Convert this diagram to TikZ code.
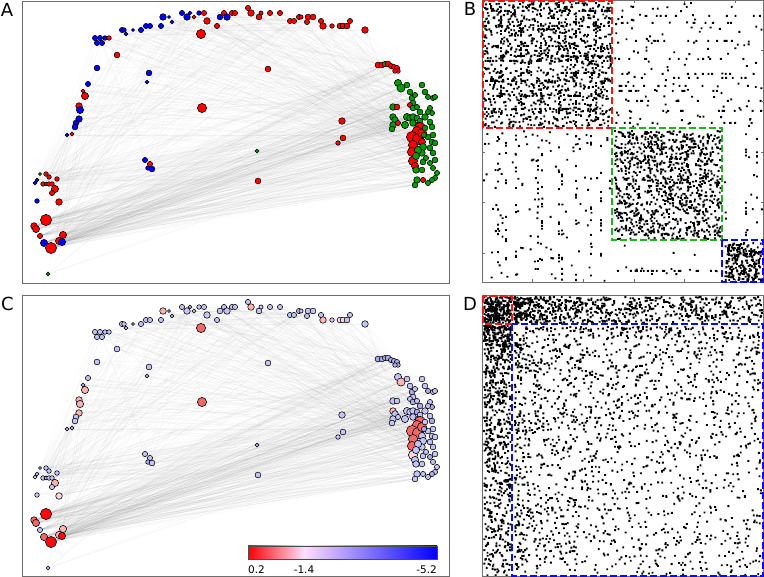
\documentclass[tikz,border=0pt]{standalone}
\usepackage{fontspec}
\setmainfont{DejaVu Sans}
\definecolor{cr}{RGB}{255,0,0}
\definecolor{cb}{RGB}{0,0,255}
\definecolor{cg}{RGB}{0,155,0}
\definecolor{cL}{RGB}{196,196,246}
\definecolor{cK}{RGB}{170,170,236}
\definecolor{cP}{RGB}{252,180,180}
\definecolor{cW}{RGB}{252,214,222}
\definecolor{cM}{RGB}{244,104,104}
\definecolor{cR}{RGB}{255,10,10}
\definecolor{cmid}{RGB}{255,222,252}
\definecolor{framegray}{RGB}{110,110,110}
\definecolor{boxred}{RGB}{250,20,20}
\definecolor{boxgreen}{RGB}{30,180,30}
\definecolor{boxblue}{RGB}{10,10,250}
\tikzset{
  edge/.style={draw=black!40,line width=0.3pt,opacity=0.09},
  vert/.style={circle,draw=black,line width=0.55pt,inner sep=0pt},
  frame/.style={draw=framegray,line width=0.9pt},
  dashbox/.style={line width=1.8pt,dash pattern=on 7pt off 3pt},
  dotm/.style={fill=black},
  panlabel/.style={font=\fontsize{18}{18}\selectfont,inner sep=0pt},
  cbtext/.style={font=\fontsize{10.5}{11}\selectfont,inner sep=0pt}
}
\def\netdata{378/65/2.3/cr/cK,382/65/2.3/cr/cK,385/64/2.0/cg/cK,388/64/2.3/cr/cK,391/66/2.0/cr/cK,394/67/2.0/cr/cK,397/68/2.0/cr/cK,398/71/1.7/cr/cK,395/71/1.7/cr/cK,
398/83/3/cg/cL,401/88/3.5/cg/cP,407/85/2.3/cg/cL,410/92/2.3/cg/cL,412/98/2.3/cg/cK,415/95/2/cg/cL,413/103/2.3/cg/cL,410/105/2/cr/cL,413/108/2.3/cg/cK,417/107/2/cg/cL,422/85/2.3/cg/cL,
425/92/2.3/cg/cL,428/97/2/cg/cK,433/98/2/cg/cL,435/97/2/cg/cL,430/108/2/cg/cL,432/113/2/cg/cK,393/107/2.7/cg/cL,397/107/2.3/cr/cL,393/117/2.7/cg/cP,395/120/2.7/cg/cL,
393/125/2.7/cg/cL,392/129/2.3/cg/cL,398/123/2/cr/cL,405/125/3/cg/cL,407/117/3/cg/cL,410/118/2.7/cg/cL,413/117/2.7/cg/cL,417/118/2.3/cg/cK,420/121/2.3/cg/cL,413/123/2.7/cg/cL,
418/125/2.3/cg/cL,420/128/5/cr/cM,417/131/4/cr/cM,412/137/5/cr/cM,418/139/5/cr/cM,422/133/4/cr/cM,413/145/4/cr/cM,412/152/4/cr/cM,413/161/4/cr/cW,415/166/3/cr/cL,
422/142/3/cr/cL,423/147/3/cg/cL,430/122/2.3/cg/cL,432/127/2.3/cg/cK,433/135/2.3/cg/cL,428/137/2.3/cg/cL,432/142/2.3/cg/cL,435/143/2.3/cg/cL,430/148/2.3/cg/cL,433/153/2.3/cg/cL,
435/160/2.3/cg/cL,430/163/2/cg/cK,433/168/2/cg/cL,437/173/2/cg/cL,435/178/2/cg/cL,428/183/2/cg/cL,432/180/2/cg/cK,422/153/2.7/cg/cL,423/162/2.3/cg/cL,422/170/2.3/cg/cL,
417/180/2.7/cg/cL,415/185/2.3/cg/cL,423/180/2/cr/cL,425/117/2.7/cg/cL,428/112/2/cg/cL,420/112/2.3/cg/cK,418/150/3/cg/cL,416/156/3/cg/cL,425/128/2.3/cg/cL,424/135/2/cg/cK,
416/170/2.7/cg/cL,426/158/2/cg/cL,
46/174/1.7/cr/cL,40/174/1/cg/cL,49/177/1.7/cr/cL,57/179/1.7/cr/cL,37/180/1.3/cb/cL,35/183/1.3/cb/cL,43/184/1.7/cr/cL,46/184/1.3/cr/cL,49/184/1.7/cr/cL,52/184/1.7/cr/cL,
55/189/3/cr/cP,52/193/2/cr/cL,37/201/1.7/cb/cL,59/202/2.7/cr/cW,46/220/5/cr/cR,34/226/2.7/cr/cM,36/229/3/cr/cM,40/236/2/cr/cL,63/235/3/cr/cP,59/241/3/cr/cP,
62/242/3/cb/cR,44/243/3/cb/cM,51/248/5/cr/cR,48/274/1.3/cg/cL,
163/17/2.7/cb/cP,169/17/1/cb/cK,172/22/1.3/cb/cK,182/13/2/cb/cL,187/17/2.7/cb/cL,190/13/1.3/cb/cK,194/17/1.3/cr/cL,199/13/1.7/cb/cL,204/13/2/cr/cL,207/21/2.7/cr/cL,
217/26/2/cr/cL,220/17/2.3/cb/cL,224/13/2/cr/cL,227/17/2.7/cb/cL,232/13/2/cr/cL,235/13/2/cr/cL,248/8/2/cr/cL,251/13/2.7/cr/cP,259/17/2.3/cr/cL,261/13/1.5/cr/cL,
270/13/2/cr/cL,280/13/2/cr/cL,290/21/2/cr/cL,294/21/2/cr/cL,299/17/2/cr/cL,301/17/1.5/cr/cL,307/22/2/cr/cL,308/17/2.3/cr/cL,313/17/2.3/cr/cL,321/21/2/cr/cL,
323/26/2.7/cr/cP,332/26/1.7/cr/cL,340/26/2.3/cr/cW,343/26/2.3/cr/cW,347/26/2.3/cr/cL,350/21/2/cr/cL,365/30/2.7/cr/cL,201/34/4/cr/cM,122/30/2/cb/cL,124/30/1.7/cb/cL,
126/34/1.3/cb/cK,133/30/1/cb/cK,141/30/2/cb/cL,146/26/2/cb/cL,150/26/2/cb/cL,161/26/2/cb/cL,95/38/2/cb/cL,97/43/2/cb/cL,100/38/2/cb/cL,102/43/2/cb/cL,
105/38/1.7/cb/cL,109/38/1.7/cr/cL,117/55/2.3/cr/cL,97/68/2.3/cb/cL,149/73/2.3/cb/cL,147/82/1.3/cb/cK,88/84/2/cb/cL,83/91/1.3/cr/cK,85/96/3/cr/cP,79/106/2.7/cr/cP,
80/110/3/cb/cP,79/119/2.7/cb/cP,76/123/2.3/cb/cL,75/127/2.3/cb/cL,67/135/1.3/cb/cK,72/134/1.3/cr/cK,202/108/4/cr/cM,268/69/2.3/cr/cL,342/121/2.7/cr/cL,343/138/2.3/cr/cL,
338/143/1.7/cr/cL,257/151/1.3/cg/cK,258/181/2.3/cr/cL,145/160/2/cb/cL,150/164/2/cr/cL,148/168/1.7/cb/cK,152/169/2.3/cb/cL}
\newcommand\netpanel[2]{%
  \foreach \x/\y/\r/\a/\c [count=\i] in \netdata {\coordinate (#1\i) at (\x,\y);}
  \pgfmathsetseed{11}
  \foreach \k in {1,...,230}{\pgfmathrandominteger{\ia}{97}{105}\pgfmathrandominteger{\ib}{1}{82}\draw[edge] (#1\ia) -- (#1\ib);}
  \foreach \k in {1,...,110}{\pgfmathrandominteger{\ia}{83}{106}\pgfmathrandominteger{\ib}{1}{82}\draw[edge] (#1\ia) -- (#1\ib);}
  \foreach \k in {1,...,260}{\pgfmathrandominteger{\ia}{107}{183}\pgfmathrandominteger{\ib}{1}{82}\draw[edge] (#1\ia) -- (#1\ib);}
  \foreach \k in {1,...,110}{\pgfmathrandominteger{\ia}{83}{106}\pgfmathrandominteger{\ib}{107}{183}\draw[edge] (#1\ia) -- (#1\ib);}
  \foreach \k in {1,...,100}{\pgfmathrandominteger{\ia}{107}{183}\pgfmathrandominteger{\ib}{107}{183}\draw[edge] (#1\ia) -- (#1\ib);}
  \foreach \x/\y/\r/\a/\c [count=\i] in \netdata {\node[vert,fill=#2,minimum size=2*\r pt+1.2pt] (#1v\i) at (#1\i) {};}
}
\begin{document}
\begin{tikzpicture}[x=1pt,y=-1pt]
\useasboundingbox (0,0) rectangle (764,577);
\fill[white] (0,0) rectangle (764,577);
% ---------- Panel A ----------
\netpanel{p}{\a}
\draw[frame] (22,1) rectangle (449,283);
\node[panlabel] (labA) at (7,9.5) {A};
% ---------- Panel C ----------
\begin{scope}[shift={(0,294)}]
\netpanel{q}{\c}
\end{scope}
\draw[frame] (22,295) rectangle (449,576);
\node[panlabel] (labC) at (7.5,304) {C};
% colour bar
\shade[left color=cr,right color=cmid] (248,546) rectangle (304,559);
\shade[left color=cmid,right color=cb] (304,546) rectangle (437,559);
\draw[draw=black!70,line width=0.5pt] (248,546) rectangle (437,559);
\node[cbtext,anchor=base west] (t1) at (248,573) {0.2};
\node[cbtext,anchor=base] (t2) at (304,573) {-1.4};
\node[cbtext,anchor=base east] (t3) at (437,573) {-5.2};
% ---------- Panel B ----------
\pgfmathsetseed{5}
\fill[dotm] foreach \k in {1,...,1000}{({483+127*rnd},{1+125*rnd}) rectangle ++(1.9,1.9)};
\fill[dotm] foreach \yy in {10,25,45,55,60,72,80,95,108}{foreach \k in {1,...,24}{({483+127*rnd},\yy) rectangle ++(1.9,1.9)}};
\fill[dotm] foreach \xx in {500,520,540,558,575,595}{foreach \k in {1,...,24}{(\xx,{1+125*rnd}) rectangle ++(1.9,1.9)}};
\fill[dotm] foreach \k in {1,...,1050}{({614+106*rnd},{130+108*rnd}) rectangle ++(1.9,1.9)};
\fill[dotm] foreach \k in {1,...,230}{({724+37*rnd},{242+38*rnd}) rectangle ++(1.9,1.9)};
\fill[dotm] foreach \k in {1,...,110}{({614+147*rnd},{2+124*rnd}) rectangle ++(1.9,1.9)};
\fill[dotm] foreach \yy in {15,22,40,58,73,77,85,90,100,110,122}{foreach \k in {1,...,11}{({614+147*rnd},\yy) rectangle ++(1.9,1.9)}};
\fill[dotm] foreach \k in {1,...,110}{({483+127*rnd},{130+150*rnd}) rectangle ++(1.9,1.9)};
\fill[dotm] foreach \xx in {497,505,515,537,541,558,561,575,590,600}{foreach \k in {1,...,11}{(\xx,{130+150*rnd}) rectangle ++(1.9,1.9)}};
\fill[dotm] foreach \k in {1,...,20}{({614+106*rnd},270) rectangle ++(1.9,1.9)};
\fill[dotm] foreach \k in {1,...,12}{({614+106*rnd},{243+37*rnd}) rectangle ++(1.9,1.9)};
\fill[dotm] foreach \xx in {745,756}{foreach \k in {1,...,9}{(\xx,{130+108*rnd}) rectangle ++(1.9,1.9)}};
\fill[dotm] foreach \k in {1,...,10}{({724+37*rnd},{130+108*rnd}) rectangle ++(1.9,1.9)};
\draw[frame] (482,0.5) rectangle (763.5,282);
\foreach \t in {532.7,583.3,634,684.7,735.3}{\draw[framegray,line width=0.5pt] (\t,0.5) -- (\t,3.5) (\t,282) -- (\t,279);}
\foreach \t in {50.7,101.3,152,202.7,253.3}{\draw[framegray,line width=0.5pt] (482,\t) -- (485,\t) (763.5,\t) -- (760.5,\t);}
\draw[dashbox,draw=boxred] (483,1) rectangle (612,128);
\draw[dashbox,draw=boxgreen] (612,128) rectangle (722,240);
\draw[dashbox,draw=boxblue] (722,240) rectangle (763,282);
\node[panlabel] (labB) at (470,9) {B};
% ---------- Panel D ----------
\pgfmathsetseed{9}
\fill[dotm] foreach \k in {1,...,240}{({483+27*rnd},{296+26*rnd}) rectangle ++(1.9,1.9)};
\fill[dotm] foreach \k in {1,...,750}{({513+248*rnd^1.6},{296+26*rnd}) rectangle ++(1.9,1.9)};
\fill[dotm] foreach \k in {1,...,750}{({483+27*rnd},{325+250*rnd^1.6}) rectangle ++(1.9,1.9)};
\fill[dotm] foreach \k in {1,...,1800}{({514+246*rnd^1.3},{326+248*rnd^1.3}) rectangle ++(1.9,1.9)};
\draw[frame] (482,295) rectangle (763.5,576.5);
\draw[dashbox,draw=boxred] (483,296) rectangle (512,324);
\draw[dashbox,draw=boxblue] (512,324) rectangle (763,576);
\node[panlabel] (labD) at (470,304) {D};
\end{tikzpicture}
\end{document}
